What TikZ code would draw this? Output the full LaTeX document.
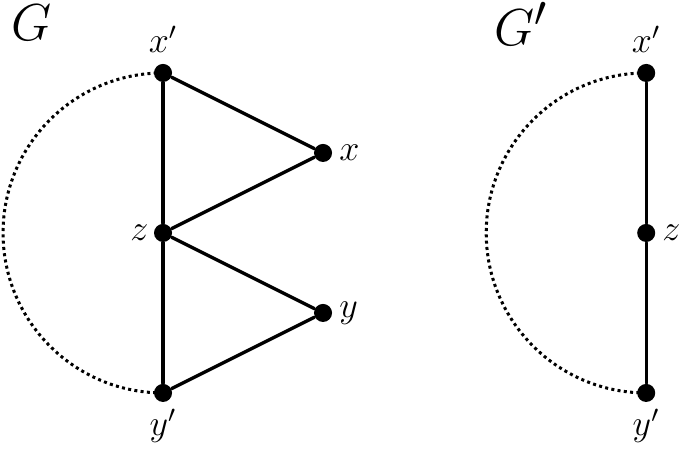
\documentclass[tikz,border=0pt]{standalone}
\usetikzlibrary{positioning}
\tikzset{
  vertex/.style={circle,fill=black,inner sep=0pt,minimum size=6pt},
  edge/.style={line width=1.1pt},
  hull/.style={line width=1pt,line cap=butt,dash pattern=on 1pt off 1.1pt},
  gname/.style={font=\fontsize{19}{23}\selectfont,anchor=base west,inner sep=0pt,text height=0.7em},
  every label/.style={font=\large},
}
\begin{document}
\begin{tikzpicture}[x=1.869cm,y=1.869cm,line cap=round,line join=round]
\useasboundingbox (-1.019,-1.3625) rectangle (3.2625,1.456);

% Graph G
\node[gname] (G) at (-0.95,1.2) {$G$};
\node[vertex,label={above:$x'$}] (xp) at (0,1) {};
\node[vertex,label={[inner sep=1.5pt]left:$z$}] (z) at (0,0) {};
\node[vertex,label={[inner sep=2pt]below:$y'$}] (yp) at (0,-1) {};
\node[vertex,label={[inner sep=2pt]right:$x$}] (x) at (1,0.5) {};
\node[vertex,label={[inner sep=2pt]right:$y$}] (y) at (1,-0.5) {};

\draw[edge] (xp) -- (z) -- (yp);
\draw[edge] (xp) -- (x) -- (z) -- (y) -- (yp);
\draw[hull] (xp.center) arc[start angle=90,end angle=270,radius=1];

% Graph G'
\node[gname] (Gp) at (2.07,1.17) {$G'$};
\node[vertex,label={above:$x'$}] (xq) at (3.02,1) {};
\node[vertex,label={[inner sep=2pt]right:$z$}] (zq) at (3.02,0) {};
\node[vertex,label={[inner sep=2pt]below:$y'$}] (yq) at (3.02,-1) {};

\draw[edge] (xq) -- (zq) -- (yq);
\draw[hull] (xq.center) arc[start angle=90,end angle=270,radius=1];

\end{tikzpicture}
\end{document}
